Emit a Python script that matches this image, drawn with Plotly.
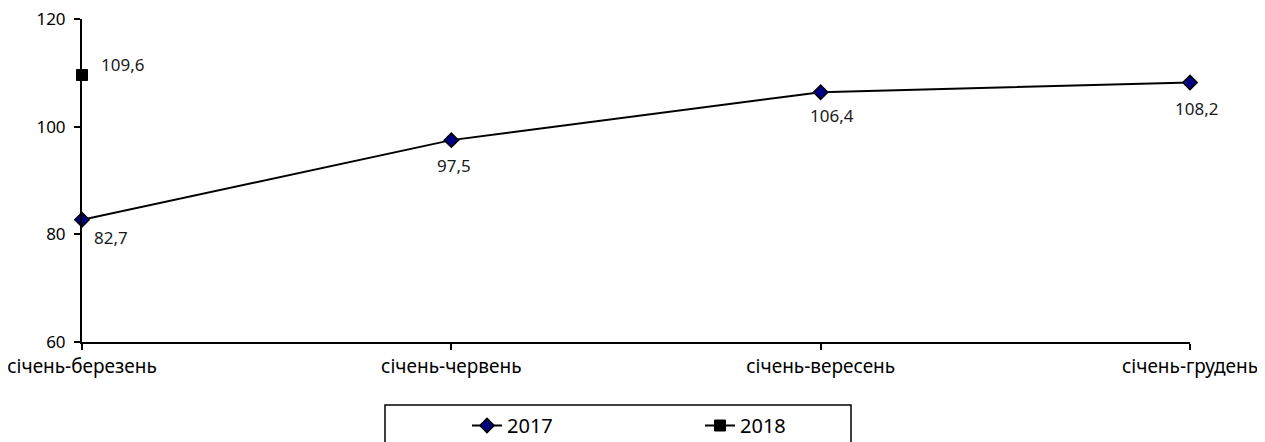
import plotly.graph_objects as go

categories = ["січень-березень", "січень-червень", "січень-вересень", "січень-грудень"]
values_2017 = [82.7, 97.5, 106.4, 108.2]
values_2018 = [109.6, None, None, None]
labels_2017 = ["82,7", "97,5", "106,4", "108,2"]
labels_2018 = ["109,6"]
y_ticks = [60, 80, 100, 120]

FONT = "Noto Sans"
W, H = 1265, 442
OFF = 8  # page body margin offset
# plot area in reference pixels
PL, PR, PT, PB = 82, 1190, 19, 342
L, R, T, B = PL - OFF, W - (PR - OFF), PT - OFF, H - (PB - OFF)
pw = PR - PL
ph = PB - PT

fig = go.Figure()
fig.add_trace(go.Scatter(
    x=categories, y=values_2017, name="2017", mode="lines+markers",
    line=dict(color="black", width=2),
    marker=dict(symbol="diamond", size=11, color="#000080", line=dict(color="black", width=1.5)),
    cliponaxis=False,
))
fig.add_trace(go.Scatter(
    x=categories, y=values_2018, name="2018", mode="lines+markers",
    line=dict(color="black", width=2),
    marker=dict(symbol="square", size=11, color="black", line=dict(color="black", width=1)),
    cliponaxis=False,
))

# data labels (offsets in pixels relative to each point)
shifts_2017 = [(29, -18), (3, -25), (11, -23), (6, -26)]
for cat, val, lab, (dx, dy) in zip(categories, values_2017, labels_2017, shifts_2017):
    fig.add_annotation(x=cat, y=val, text=lab, showarrow=False, xshift=dx, yshift=dy,
                       font=dict(family=FONT, size=17, color="#1a1a1a"))
for cat, val, lab in zip(categories, values_2018, labels_2018):
    fig.add_annotation(x=cat, y=val, text=lab, showarrow=False, xshift=40, yshift=10,
                       font=dict(family=FONT, size=17, color="#1a1a1a"))

# legend frame (extends past bottom edge as in reference)
fig.add_shape(type="rect", xref="paper", yref="paper",
              x0=(385 - PL) / pw, x1=(851 - PL) / pw,
              y0=(PB - 480) / ph, y1=(PB - 405) / ph,
              line=dict(color="black", width=1.5), fillcolor="white", layer="below")

fig.update_layout(
    width=W, height=H,
    margin=dict(l=L, r=R, t=T, b=B, autoexpand=False),
    paper_bgcolor="white", plot_bgcolor="white",
    font=dict(family=FONT, size=17, color="black"),
    showlegend=True,
    legend=dict(orientation="h", xref="container", yref="container",
                x=459 / W, xanchor="left", y=1 - 398 / H, yanchor="top",
                entrywidth=188, entrywidthmode="pixels",
                bgcolor="rgba(0,0,0,0)", borderwidth=0,
                font=dict(family=FONT, size=20, color="black")),
    xaxis=dict(type="category", range=[0, 3], showgrid=False, zeroline=False,
               showline=True, linecolor="black", linewidth=2,
               ticks="outside", ticklen=6, tickwidth=2, tickcolor="black",
               ticklabeloverflow="allow",
               tickfont=dict(family=FONT, size=19, color="black")),
    yaxis=dict(range=[60, 120], tickvals=y_ticks, showgrid=False, zeroline=False,
               showline=True, linecolor="black", linewidth=2,
               ticks="outside", ticklen=6, tickwidth=2, tickcolor="black",
               ticklabelstandoff=5, ticklabeloverflow="allow",
               tickfont=dict(family=FONT, size=17, color="black")),
)

fig.write_html("out.html")
